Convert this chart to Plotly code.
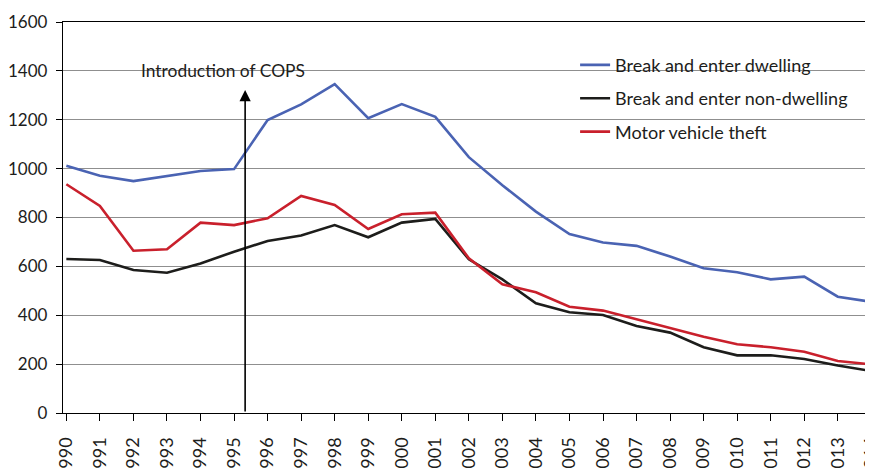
import plotly.graph_objects as go

years = list(range(1990, 2015))
year_labels = [str(y) for y in years]

dwelling = [1012, 971, 949, 971, 990, 998, 1199, 1263, 1346, 1206, 1264, 1212,
            1047, 932, 824, 732, 698, 684, 640, 592, 576, 547, 558, 476, 455]
non_dwelling = [630, 626, 585, 574, 612, 660, 704, 726, 769, 719, 779, 794,
                629, 547, 449, 412, 401, 356, 329, 269, 236, 236, 221, 194, 172]
motor_vehicle = [936, 847, 664, 670, 779, 769, 797, 888, 851, 753, 813, 820,
                 633, 527, 494, 435, 419, 383, 347, 312, 281, 269, 251, 213, 199]

series_names = ["Break and enter dwelling", "Break and enter non-dwelling", "Motor vehicle theft"]
series_colors = ["#4a63b3", "#1d1d1b", "#c9202c"]

cops_year = 1995.33
cops_label = "Introduction of COPS"

FONT = "Lato"
FS = 18

fig = go.Figure()
for i, (name, vals, col) in enumerate(zip(series_names, [dwelling, non_dwelling, motor_vehicle], series_colors)):
    fig.add_trace(go.Scatter(x=years, y=vals, mode="lines", name=name, legendgroup=f"g{i}",
                             line=dict(color=col, width=2.6)))

# white patches interrupting gridlines behind the label and the legend
fig.add_shape(type="rect", xref="paper", yref="y", x0=0.0915, x1=0.3164, y0=1370, y1=1430,
              fillcolor="white", line=dict(width=0), layer="between")
fig.add_shape(type="rect", xref="paper", yref="y", x0=0.6205, x1=0.9815, y0=1140, y1=1460,
              fillcolor="white", line=dict(width=0), layer="between")

fig.add_annotation(x=0.094, xref="paper", y=1400, yref="y", text=cops_label,
                   showarrow=False, xanchor="left", yanchor="middle",
                   font=dict(family=FONT, size=17.4, color="#1d1d1b"))
fig.add_annotation(x=cops_year, y=1322, xref="x", yref="y", ax=cops_year, ay=0,
                   axref="x", ayref="y", text="", showarrow=True, arrowhead=2,
                   arrowsize=1.4, arrowwidth=1.6, arrowcolor="#000000")

# the page body adds an 8px offset; size the figure so the plot area lands where the reference has it
fig.update_layout(
    width=865, height=460,
    margin=dict(l=55, r=1, t=14, b=55, autoexpand=False),
    plot_bgcolor="white", paper_bgcolor="white",
    font=dict(family=FONT, size=FS, color="#1d1d1b"),
    showlegend=True,
    legend=dict(x=0.633, y=0.937, xanchor="left", yanchor="top",
                bgcolor="rgba(0,0,0,0)", borderwidth=0,
                font=dict(family=FONT, size=FS, color="#1d1d1b"),
                tracegroupgap=7),
)
fig.update_xaxes(range=[1989.9, 2014.02], tickmode="array", tickvals=years, ticktext=year_labels,
                 tickangle=-90, ticks="outside", ticklen=7, tickcolor="#000000", tickwidth=1,
                 showline=True, linecolor="#000000", linewidth=1.3, mirror=True,
                 showgrid=False, zeroline=False, automargin=False,
                 ticklabelstandoff=9, ticklabeloverflow="allow",
                 tickfont=dict(family=FONT, size=FS, color="#1d1d1b"))
fig.update_yaxes(range=[0, 1600], dtick=200, ticks="outside", ticklen=6, tickcolor="#000000",
                 tickwidth=1, showline=True, linecolor="#000000", linewidth=1.3, mirror=True,
                 showgrid=True, gridcolor="#8f8f8f", gridwidth=1.3, zeroline=False,
                 ticklabelstandoff=5, automargin=False,
                 tickfont=dict(family=FONT, size=17, color="#1d1d1b"))

fig.write_html("out.html")
